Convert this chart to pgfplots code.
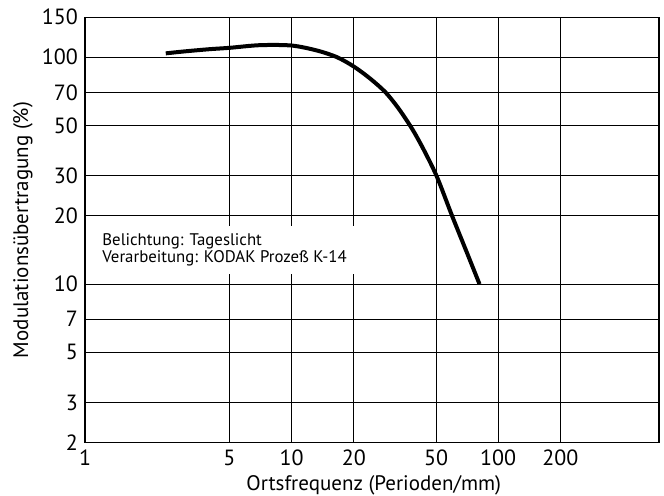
\documentclass[border=0pt]{standalone}
\usepackage{fontspec}
\setmainfont{PT Sans}
\usepackage{pgfplots}
\pgfplotsset{compat=1.18}
\begin{document}
\begin{tikzpicture}
\useasboundingbox (0,0) rectangle (332pt,248pt);
\begin{axis}[
  at={(42.5pt,26.65pt)}, anchor=south west,
  scale only axis, width=287pt, height=212.7pt,
  xmode=log, ymode=log,
  xmin=1, xmax=600, ymin=2, ymax=150,
  xtick={1,5,10,20,50,100,200},
  xticklabels={1,5,10,20,50,100,200},
  ytick={2,3,5,7,10,20,30,50,70,100,150},
  yticklabels={2,3,5,7,10,20,30,50,70,100,150},
  minor xtick={}, minor ytick={},
  major tick length=0pt,
  grid=major,
  grid style={black, line width=0.5pt},
  axis line style={line width=0.7pt},
  tick label style={font=\fontsize{11}{12}\selectfont},
  /pgf/number format/assume math mode=true,
  xlabel={Ortsfrequenz (Perioden/mm)},
  ylabel={Modulations\"ubertragung (\%)},
  label style={font=\fontsize{10.5}{12}\selectfont},
  xlabel style={at={(axis description cs:0.503,-0.112)}, anchor=base},
  ylabel style={at={(axis description cs:-0.108,0.5)}, anchor=center},
]
\addplot[black, line width=2pt, smooth] coordinates {
(2.46,104) (3,106) (4,108.5) (5,110) (7,113) (10,112.6) (13.3,107) (16.6,100)
(20,91) (24,80.5) (28.5,70) (33,59.3) (38.5,48) (44,38.5) (50.6,29.6) (59.8,20) (69.8,14.1) (81.2,10)
};
\node[fill=white, anchor=west, align=left, inner xsep=4pt, inner ysep=4pt,
      font=\fontsize{8.4}{8.2}\selectfont]
  at (rel axis cs:0.0157,0.453)
  {Belichtung: Tageslicht\\Verarbeitung: KODAK Proze\ss{} K-14};
\end{axis}
\end{tikzpicture}
\end{document}
